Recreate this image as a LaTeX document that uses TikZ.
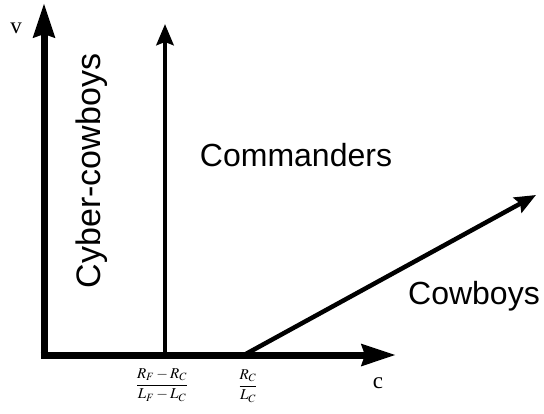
\documentclass[tikz,border=0pt]{standalone}
\usepackage{mathptmx}
\usepackage{fontspec}
\setmainfont{Liberation Serif}
\newfontfamily\arialfont{Liberation Sans}
\usetikzlibrary{arrows.meta}
\begin{document}
\begin{tikzpicture}[x=1pt,y=-1pt,
  axis/.style={line width=7pt,-{Stealth[length=34pt,width=21pt,inset=3pt]}},
  thinarrow/.style={line width=4.5pt,-{Stealth[length=21pt,width=17pt,inset=3pt]}},
  biglabel/.style={font=\arialfont\fontsize{32}{32}\selectfont,inner sep=0pt},
  axlabel/.style={font=\fontsize{23}{23}\selectfont,inner sep=0pt},
  fraclabel/.style={font=\fontsize{15}{15}\selectfont,inner sep=0pt}]
\useasboundingbox (0,0) rectangle (544,413);
\coordinate (O) at (44,355);
\coordinate (Oh) at (40.5,355);
\coordinate (Vtip) at (44,3);
\coordinate (Htip) at (396,355);
\coordinate (Cbase) at (165,355);
\coordinate (Ctip) at (165,24);
\coordinate (Dbase) at (244,355);
\coordinate (Dtip) at (536,195);
\draw[axis] (O) -- (Vtip);
\draw[axis] (Oh) -- (Htip);
\draw[thinarrow] (Cbase) -- (Ctip);
\draw[thinarrow] (Dbase) -- (Dtip);
\node[axlabel] (v) at (16,28) {v};
\node[axlabel] (c) at (378,383) {c};
\node[biglabel,rotate=90,font=\arialfont\fontsize{34}{34}\selectfont] (cyber) at (92,171) {Cyber-cowboys};
\node[biglabel] (cmd) at (296,155) {Commanders};
\node[biglabel] (cow) at (474,296) {Cowboys};
\node[fraclabel] (f1) at (162,385) {$\displaystyle\frac{R_F-R_C}{L_F-L_C}$};
\node[fraclabel] (f2) at (248,386) {$\displaystyle\frac{R_C}{L_C}$};
\end{tikzpicture}
\end{document}
